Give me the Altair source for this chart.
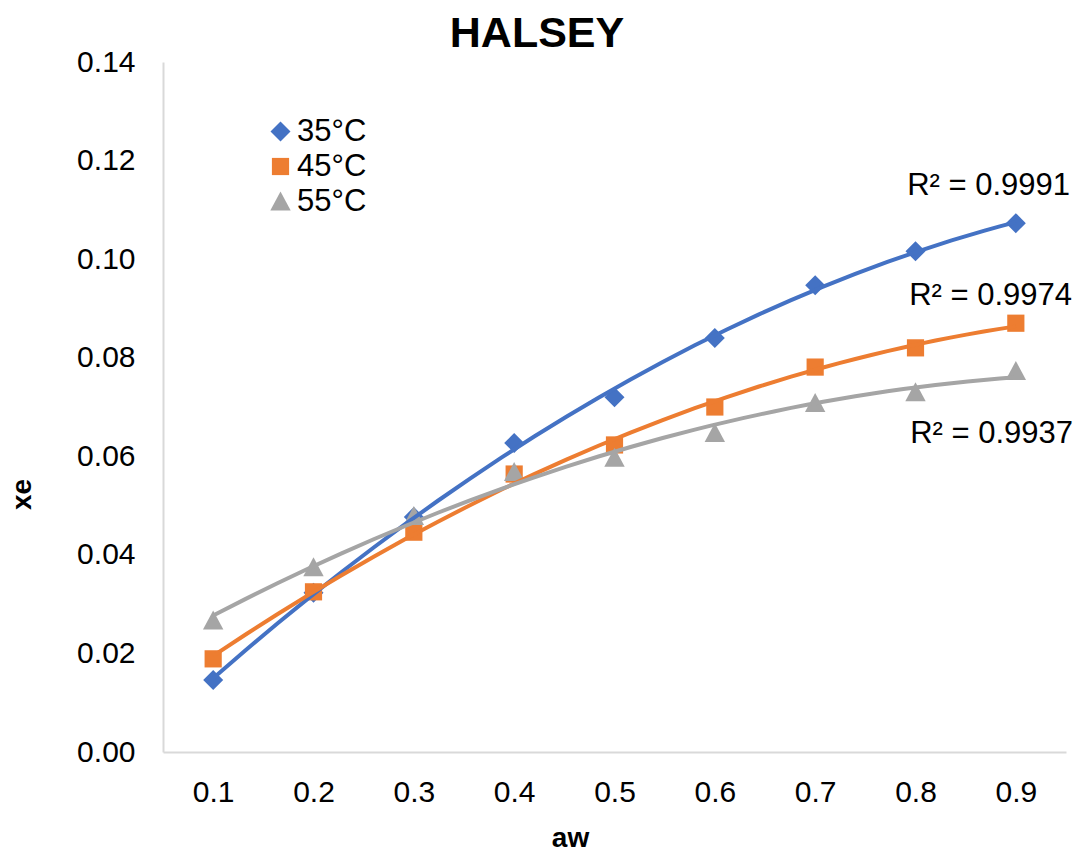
import altair as alt
import pandas as pd

# Water activity levels and equilibrium moisture content per temperature
aw = [0.1, 0.2, 0.3, 0.4, 0.5, 0.6, 0.7, 0.8, 0.9]
series = ["35°C", "45°C", "55°C"]
xe_35 = [0.0146, 0.0323, 0.0477, 0.0627, 0.0720, 0.0840, 0.0947, 0.1016, 0.1073]
xe_45 = [0.0189, 0.0325, 0.0446, 0.0564, 0.0623, 0.0700, 0.0781, 0.0820, 0.0870]
xe_55 = [0.0267, 0.0375, 0.0479, 0.0568, 0.0597, 0.0647, 0.0708, 0.0730, 0.0773]
r2_labels = ["R² = 0.9991", "R² = 0.9974", "R² = 0.9937"]

x_ticks = [0.1, 0.2, 0.3, 0.4, 0.5, 0.6, 0.7, 0.8, 0.9]
y_ticks = [0.0, 0.02, 0.04, 0.06, 0.08, 0.10, 0.12, 0.14]

colors = ["#4472C4", "#ED7D31", "#A5A5A5"]
# Marker outlines in unit coordinates: diamond, square, triangle
shapes = [
    "M0,-1L1,0L0,1L-1,0Z",
    "M-0.86,-0.86L0.86,-0.86L0.86,0.86L-0.86,0.86Z",
    "M0,-1L1.02,0.9L-1.02,0.9Z",
]
MARKER = 400

rows = []
for name, vals in zip(series, [xe_35, xe_45, xe_55]):
    for a, v in zip(aw, vals):
        rows.append({"series": name, "aw": a, "xe": v})
df = pd.DataFrame(rows)

FONT = "Liberation Sans"
W, H = 903, 690

x_enc = alt.X(
    "aw:Q",
    scale=alt.Scale(domain=[0.05, 0.95], nice=False, zero=False),
    axis=alt.Axis(
        values=x_ticks, format=".1f", title="aw", ticks=False, grid=False,
        domainColor="#d9d9d9", domainWidth=2, labelFontSize=30,
        labelPadding=25, labelColor="#000000",
        titleFontSize=28, titleFontWeight="bold", titleColor="#000000",
        titleX=407, titleY=94, titleBaseline="alphabetic",
    ),
)
y_enc = alt.Y(
    "xe:Q",
    scale=alt.Scale(domain=[0, 0.14], nice=False, zero=True),
    axis=alt.Axis(
        values=y_ticks, format=".2f", title="xe", ticks=False, grid=False,
        domainColor="#d9d9d9", domainWidth=2, labelFontSize=30,
        labelPadding=28, labelColor="#000000",
        titleFontSize=28, titleFontWeight="bold", titleColor="#000000",
        titleX=-133, titleY=432, titleAngle=-90, titleBaseline="alphabetic",
        titleAlign="center",
    ),
)
color_enc = alt.Color(
    "series:N",
    scale=alt.Scale(domain=series, range=colors),
    legend=alt.Legend(
        title=None, orient="none", legendX=102, legendY=54,
        labelFontSize=31, labelColor="#000000", labelOffset=1,
        rowPadding=3, symbolStrokeWidth=0, symbolOpacity=1,
        symbolSize=MARKER,
    ),
)

base = alt.Chart(df)

points = base.mark_point(
    filled=True, opacity=1, strokeWidth=0, size=MARKER
).encode(
    x=x_enc,
    y=y_enc,
    color=color_enc,
    shape=alt.Shape("series:N", scale=alt.Scale(domain=series, range=shapes)),
)

# Second-order polynomial trendlines fitted per temperature
trend = base.transform_regression(
    "aw", "xe", method="poly", order=2, groupby=["series"], extent=[0.1, 0.9]
).mark_line(strokeWidth=4).encode(
    x="aw:Q",
    y="xe:Q",
    color=alt.Color("series:N", scale=alt.Scale(domain=series, range=colors)),
)

# R² annotations beside each trendline
label_pos = [(907, 133), (909, 243), (910, 381)]
labels = []
for text, (px, py) in zip(r2_labels, label_pos):
    labels.append(
        alt.Chart(pd.DataFrame({"t": [text]})).mark_text(
            align="right", baseline="alphabetic", fontSize=31, font=FONT,
            color="#000000",
        ).encode(x=alt.value(px), y=alt.value(py), text="t:N")
    )

title = alt.Chart(pd.DataFrame({"t": ["HALSEY"]})).mark_text(
    align="center", baseline="alphabetic", fontSize=43, fontWeight="bold",
    font=FONT, color="#000000",
).encode(x=alt.value(374), y=alt.value(-15), text="t:N")

chart = alt.layer(points, trend, *labels, title).properties(
    width=W,
    height=H,
    autosize=alt.AutoSizeParams(type="none"),
    padding={"left": 163, "top": 62, "right": 10, "bottom": 100},
).configure(font=FONT).configure_view(stroke=None)

chart.save("out.html", embed_options={"renderer": "svg", "actions": False})
